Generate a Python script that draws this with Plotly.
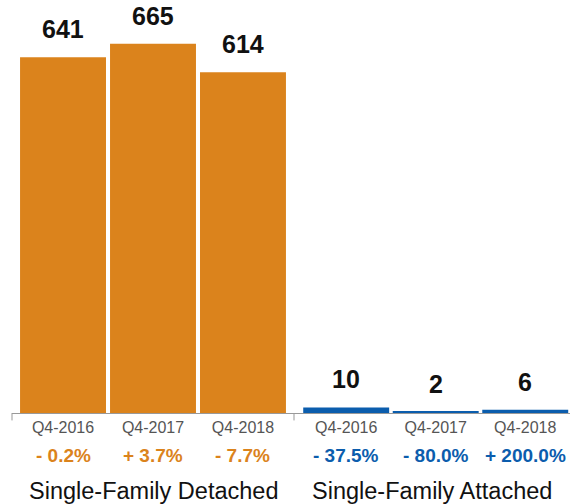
import plotly.graph_objects as go

quarters = ["Q4-2016", "Q4-2017", "Q4-2018"]
detached_values = [641, 665, 614]
attached_values = [10, 2, 6]
detached_changes = ["- 0.2%", "+ 3.7%", "- 7.7%"]
attached_changes = ["- 37.5%", "- 80.0%", "+ 200.0%"]
group_names = ["Single-Family Detached", "Single-Family Attached"]

ORANGE = "#DB831C"
BLUE = "#0B5DAD"
FONT = "Liberation Sans, Arial, Helvetica, sans-serif"

fig = go.Figure()
fig.add_trace(go.Bar(x=quarters, y=detached_values, marker_color=ORANGE,
                     marker_line_width=0, xaxis="x", yaxis="y", width=0.955,
                     hoverinfo="skip"))
fig.add_trace(go.Bar(x=quarters, y=attached_values, marker_color=BLUE,
                     marker_line_width=0, xaxis="x2", yaxis="y2", width=0.96,
                     hoverinfo="skip"))

annotations = []
groups = [("x", "y", detached_values, detached_changes, ORANGE),
          ("x2", "y2", attached_values, attached_changes, BLUE)]
for (xr, yr, vals, chg, col), name in zip(groups, group_names):
    for q, v, c in zip(quarters, vals, chg):
        annotations.append(dict(x=q, y=v, xref=xr, yref=yr, text=str(v),
                                showarrow=False, yanchor="bottom", yshift=12,
                                font=dict(family=FONT, size=25, color="#111111",
                                          weight="bold")))
        annotations.append(dict(x=q, y=0, xref=xr, yref="paper", text=c,
                                showarrow=False, yanchor="middle", yshift=-42,
                                font=dict(family=FONT, size=19, color=col,
                                          weight="bold")))
    annotations.append(dict(x=0.5, y=0, xref=xr + " domain", yref="paper",
                            text=name, showarrow=False, yanchor="middle",
                            yshift=-78,
                            font=dict(family=FONT, size=23.5, color="#111111")))

shapes = []
for xr, xv in [("x domain", 0), ("x domain", 1)]:
    shapes.append(dict(type="line", xref=xr, yref="paper", x0=xv, x1=xv,
                       y0=0, y1=-0.018, line=dict(color="#999999", width=1)))

axis_common = dict(showline=True, linecolor="#999999", linewidth=1,
                   ticks="", showgrid=False, zeroline=False, type="category",
                   tickfont=dict(family=FONT, size=16, color="#555555"),
                   fixedrange=True)

d1 = (294 - 12) / 558
fig.update_layout(
    width=570, height=504,
    margin=dict(l=12, r=0, t=0, b=91),
    paper_bgcolor="white", plot_bgcolor="white",
    showlegend=False,
    xaxis=dict(domain=[0, d1], range=[-0.567, 2.567], **axis_common),
    xaxis2=dict(domain=[d1, 1], range=[-0.583, 2.5], anchor="y2", **axis_common),
    yaxis=dict(range=[0, 744], visible=False, fixedrange=True),
    yaxis2=dict(range=[0, 744], visible=False, anchor="x2", matches="y",
                fixedrange=True),
    annotations=annotations,
    shapes=shapes,
)

fig.write_html("out.html")
